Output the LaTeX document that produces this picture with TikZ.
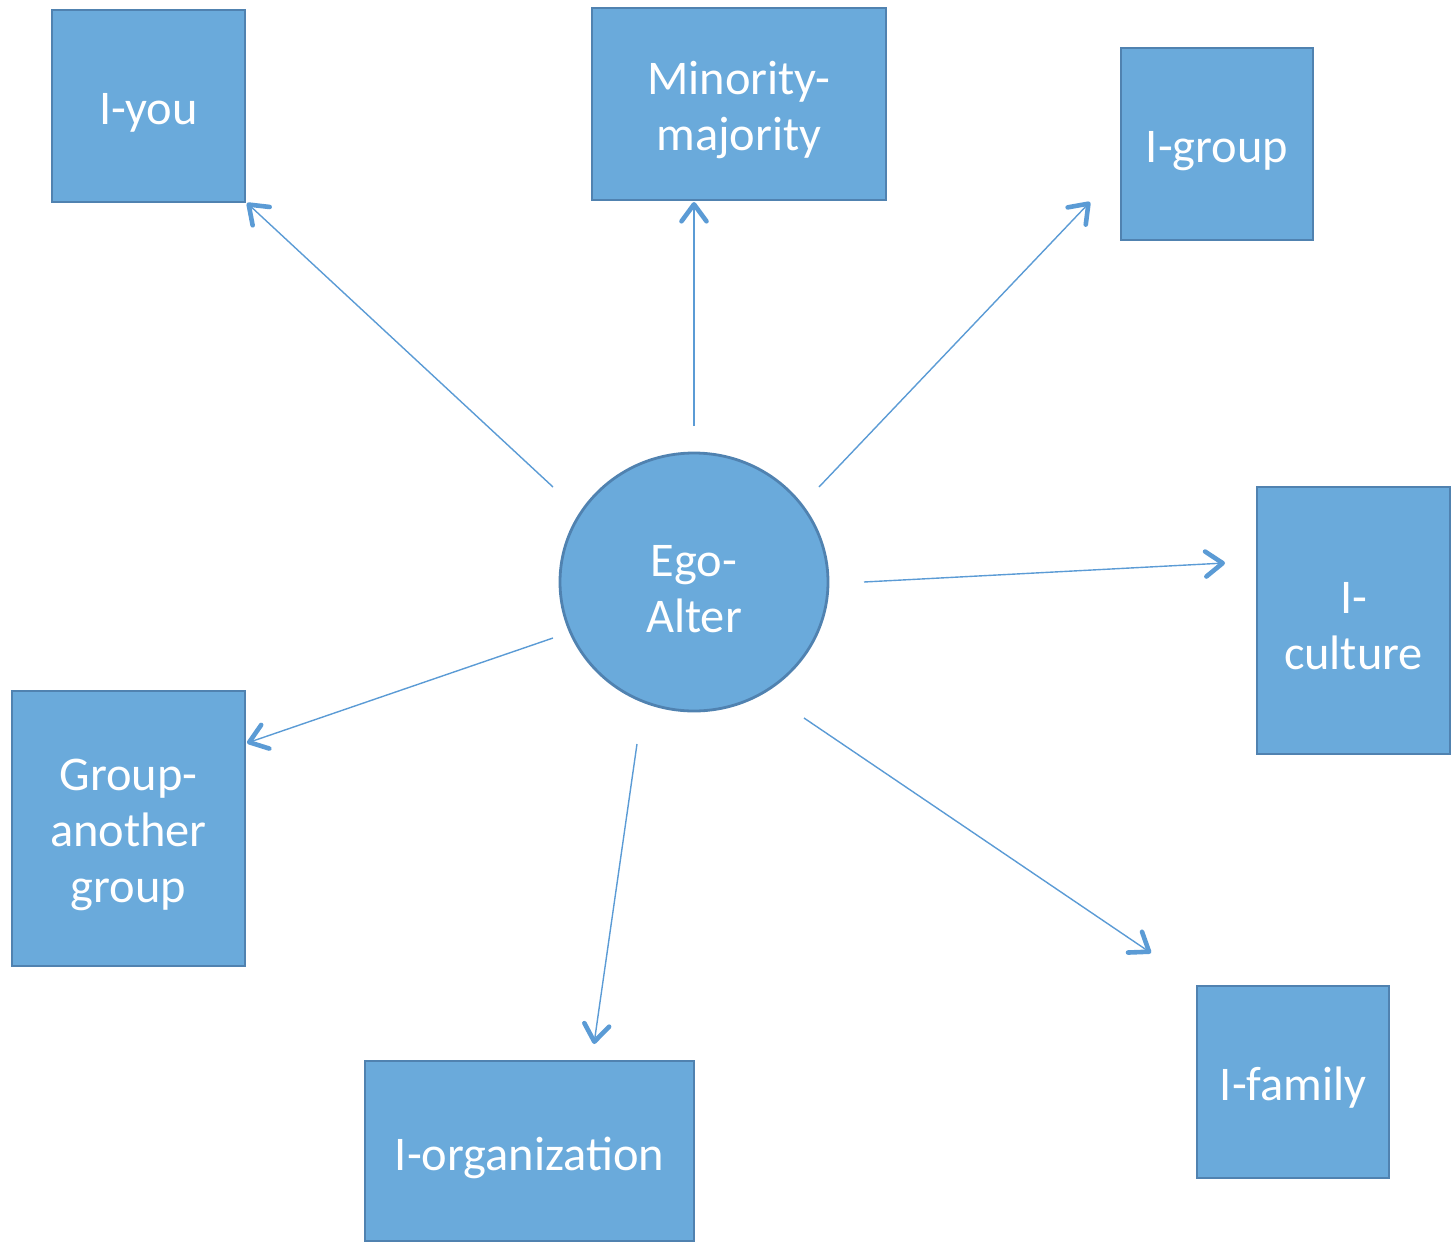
\documentclass[tikz,border=0pt]{standalone}
\usepackage{fontspec}
\setmainfont{Carlito}
\usetikzlibrary{arrows.meta,shapes.geometric}
\definecolor{boxfill}{HTML}{6AAADB}
\definecolor{boxline}{HTML}{5082B0}
\definecolor{arrowcol}{HTML}{5B9BD5}
\begin{document}
\begin{tikzpicture}[x=0.5pt,y=-0.5pt,
  box/.style={draw=boxline,fill=boxfill,line width=1.4pt,inner sep=0pt,anchor=center},
  txt/.style={text=white,font=\fontsize{24.2pt}{28pt}\selectfont,align=center,inner sep=0pt},
  link/.style={draw=arrowcol,line width=0.7pt,
    -{Straight Barb[length=8.5pt,width=12.5pt,line width=2.3pt,round]}}]
\useasboundingbox (0,0) rectangle (1453,1243);
% satellite boxes
\node[box,minimum width=96.5pt,minimum height=96pt] (iyou) at (148.5,106) {};
\node[box,minimum width=147pt,minimum height=96pt] (minmaj) at (739,104) {};
\node[box,minimum width=96pt,minimum height=96pt] (igroup) at (1217,144) {};
\node[box,minimum width=96.5pt,minimum height=133.5pt] (iculture) at (1353.5,620.5) {};
\node[box,minimum width=96pt,minimum height=96pt] (ifamily) at (1293,1082) {};
\node[box,minimum width=164.5pt,minimum height=90pt] (iorg) at (529.5,1151) {};
\node[box,minimum width=116.5pt,minimum height=137.5pt] (grp) at (128.5,828.5) {};
% central ellipse
\node[box,ellipse,minimum width=134pt,minimum height=129pt] (ego) at (694,582) {};
% labels, set slightly below the shape centres
\node[txt] (tiyou) at ([yshift=-3.5pt]iyou.center) {I-you};
\node[txt] (tminmaj) at ([yshift=-3pt]minmaj.center) {Minority-\\majority};
\node[txt] (tigroup) at ([yshift=-3.5pt]igroup.center) {I-group};
\node[txt] (ticulture) at ([yshift=-3pt]iculture.center) {I-\\culture};
\node[txt] (tifamily) at ([yshift=-3pt]ifamily.center) {I-family};
\node[txt] (tiorg) at ([yshift=-3.5pt]iorg.center) {I-organization};
\node[txt] (tgrp) at ([yshift=-3pt]grp.center) {Group-\\another\\group};
\node[txt] (tego) at ([yshift=-3.5pt]ego.center) {Ego-\\Alter};
% connector end points
\coordinate (s1) at (553,487);  \coordinate (e1) at (247,203);
\coordinate (s2) at (694,426);  \coordinate (e2) at (694,202);
\coordinate (s3) at (819,487);  \coordinate (e3) at (1090,202);
\coordinate (s4) at (864,582);  \coordinate (e4) at (1225,563);
\coordinate (s5) at (804,718);  \coordinate (e5) at (1151,953);
\coordinate (s6) at (637,744);  \coordinate (e6) at (594,1044);
\coordinate (s7) at (553,638);  \coordinate (e7) at (247,743);
% connectors
\draw[link] (s1) -- (e1);
\draw[link] (s2) -- (e2);
\draw[link] (s3) -- (e3);
\draw[link] (s4) -- (e4);
\draw[link] (s5) -- (e5);
\draw[link] (s6) -- (e6);
\draw[link] (s7) -- (e7);
\end{tikzpicture}
\end{document}
